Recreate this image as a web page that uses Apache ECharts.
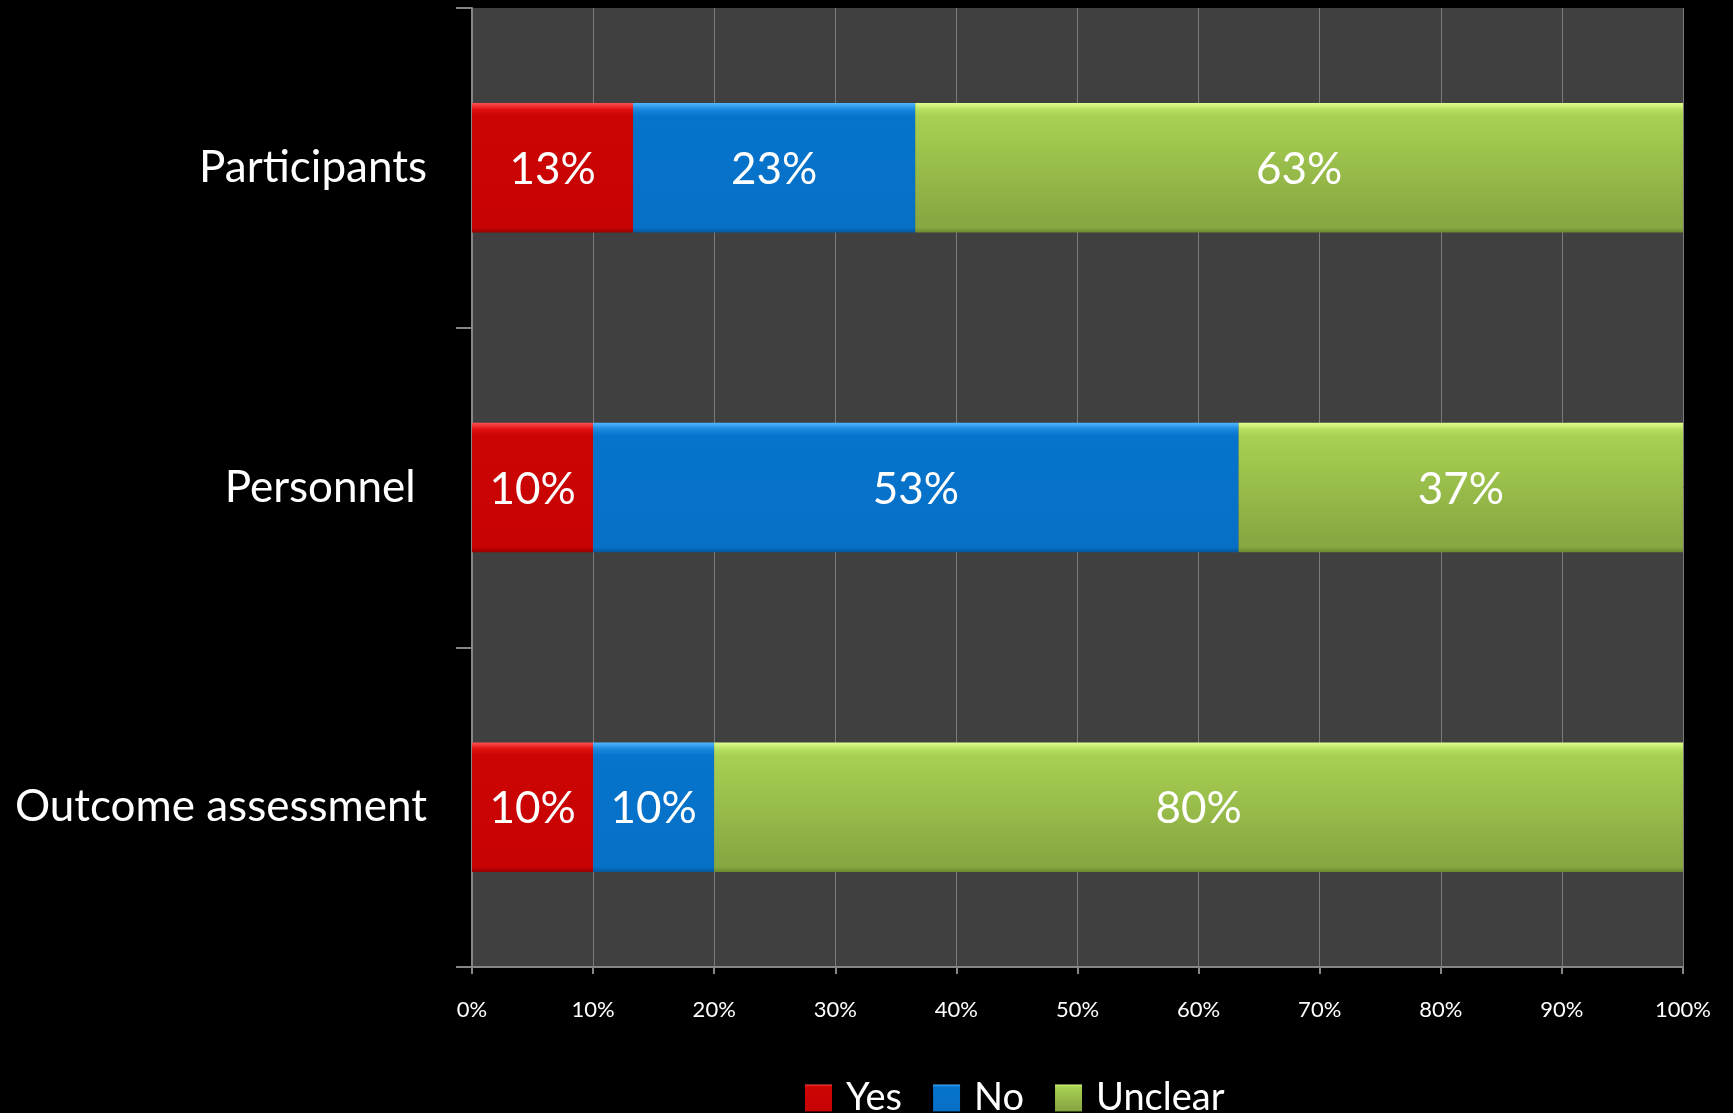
<!DOCTYPE html>
<html>
<head>
<meta charset="utf-8">
<script src="https://cdn.jsdelivr.net/npm/echarts@6/dist/echarts.min.js"></script>
<style>html,body{margin:0;padding:0;background:#000;}#c{width:1733px;height:1113px;}</style>
</head>
<body>
<div id="c"></div>
<script>
const categories = ['Participants', 'Personnel ', 'Outcome assessment'];
const seriesNames = ['Yes', 'No', 'Unclear'];
const yesValues = [13.3, 10, 10];
const noValues = [23.3, 53.3, 10];
const unclearValues = [63.4, 36.7, 80];
const xTicks = [0, 10, 20, 30, 40, 50, 60, 70, 80, 90, 100];

const FONT = 'Lato';
function grad(top, hi, body, low, bottom) {
  return new echarts.graphic.LinearGradient(0, 0, 0, 1, [
    {offset: 0, color: top},
    {offset: 0.05, color: hi},
    {offset: 0.1, color: body},
    {offset: 0.9, color: low},
    {offset: 0.96, color: low},
    {offset: 1, color: bottom}
  ]);
}
const colors = [
  grad('#ff5050', '#e01010', '#cc0404', '#c80303', '#9a0000'),
  grad('#50b8ff', '#1a88dd', '#0674cc', '#0670c6', '#04589e'),
  grad('#e0ff90', '#b8e060', '#a8d052', '#88a842', '#6a8a30')
];
const valueSets = [yesValues, noValues, unclearValues];

const chart = echarts.init(document.getElementById('c'), null, {renderer: 'canvas'});
chart.setOption({
  backgroundColor: '#000',
  animation: false,
  grid: {left: 472, right: 50, top: 8, bottom: 146, show: true, backgroundColor: '#404040', borderWidth: 0},
  legend: {
    left: 805, top: 1079, padding: 0, itemWidth: 27, itemHeight: 27, itemGap: 31,
    icon: 'rect',
    data: seriesNames,
    textStyle: {color: '#fff', fontSize: 38, fontFamily: FONT, padding: [0, 0, 0, 9]}
  },
  xAxis: {
    type: 'value', min: 0, max: 100, interval: 10,
    axisLine: {show: true, lineStyle: {color: '#868686', width: 2}},
    axisTick: {show: true, length: 7, lineStyle: {color: '#868686', width: 2}},
    splitLine: {show: true, lineStyle: {color: '#7a7a7a', width: 1}},
    axisLabel: {color: '#fff', fontSize: 22, fontFamily: FONT, margin: 32,
      formatter: function (v) { return xTicks.indexOf(v) >= 0 ? v + '%' : ''; }}
  },
  yAxis: {
    type: 'category', data: categories, inverse: true,
    axisLine: {show: true, lineStyle: {color: '#868686', width: 2}},
    axisTick: {show: true, length: 16, lineStyle: {color: '#868686', width: 2}},
    splitLine: {show: false},
    axisLabel: {color: '#fff', fontSize: 44, fontFamily: FONT, margin: 45, padding: [6, 0, 0, 0]}
  },
  series: seriesNames.map(function (name, i) {
    return {
      name: name, type: 'bar', stack: 'total', barWidth: '40.5%',
      data: valueSets[i],
      itemStyle: {color: colors[i]},
      label: {show: true, position: 'inside', color: '#fff', fontSize: 44, fontFamily: FONT, offset: [0, 2],
        formatter: function (p) { return Math.round(p.value) + '%'; }}
    };
  })
});
</script>
</body>
</html>
